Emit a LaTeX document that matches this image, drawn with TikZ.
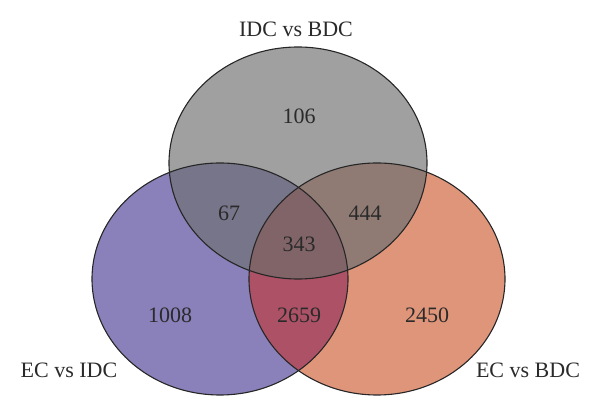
\documentclass[tikz,border=0pt]{standalone}
\usepackage{fontspec}
\setmainfont{Liberation Serif}
\definecolor{cpurple}{HTML}{8A80BA}
\definecolor{corange}{HTML}{DF957A}
\definecolor{cgray}{HTML}{A0A0A0}
\definecolor{cpg}{HTML}{777589}
\definecolor{cog}{HTML}{8F7B73}
\definecolor{cpo}{HTML}{AD5266}
\definecolor{cmid}{HTML}{806468}
\definecolor{ctext}{HTML}{2A2A2A}
\begin{document}
\begin{tikzpicture}[x=1pt,y=1pt,
  lbl/.style={text=ctext,font=\fontsize{22}{26}\selectfont,inner sep=0pt},
  outline/.style={draw=black!85,line width=1.1pt}]
\useasboundingbox (0,0) rectangle (600,417);
% single sets
\fill[cpurple] (220,138) ellipse [x radius=128, y radius=116];
\fill[corange] (377,138) ellipse [x radius=128, y radius=116];
\fill[cgray] (298,254) ellipse [x radius=129, y radius=116];
% pairwise overlaps
\begin{scope}
  \clip (220,138) ellipse [x radius=128, y radius=116];
  \fill[cpg] (298,254) ellipse [x radius=129, y radius=116];
  \fill[cpo] (377,138) ellipse [x radius=128, y radius=116];
\end{scope}
\begin{scope}
  \clip (377,138) ellipse [x radius=128, y radius=116];
  \fill[cog] (298,254) ellipse [x radius=129, y radius=116];
\end{scope}
% triple overlap
\begin{scope}
  \clip (220,138) ellipse [x radius=128, y radius=116];
  \clip (377,138) ellipse [x radius=128, y radius=116];
  \fill[cmid] (298,254) ellipse [x radius=129, y radius=116];
\end{scope}
% outlines
\draw[outline] (220,138) ellipse [x radius=128, y radius=116];
\draw[outline] (377,138) ellipse [x radius=128, y radius=116];
\draw[outline] (298,254) ellipse [x radius=129, y radius=116];
% labels
\node[lbl] (tIB) at (296,388) {IDC vs BDC};
\node[lbl] (tEI) at (69,47) {EC vs IDC};
\node[lbl] (tEB) at (528,47) {EC vs BDC};
\node[lbl] (n106) at (299,301) {106};
\node[lbl] (n67) at (229,204) {67};
\node[lbl] (n444) at (365,204) {444};
\node[lbl] (n343) at (299,173) {343};
\node[lbl] (n1008) at (170,102) {1008};
\node[lbl] (n2659) at (299,102) {2659};
\node[lbl] (n2450) at (427,102) {2450};
\end{tikzpicture}
\end{document}
